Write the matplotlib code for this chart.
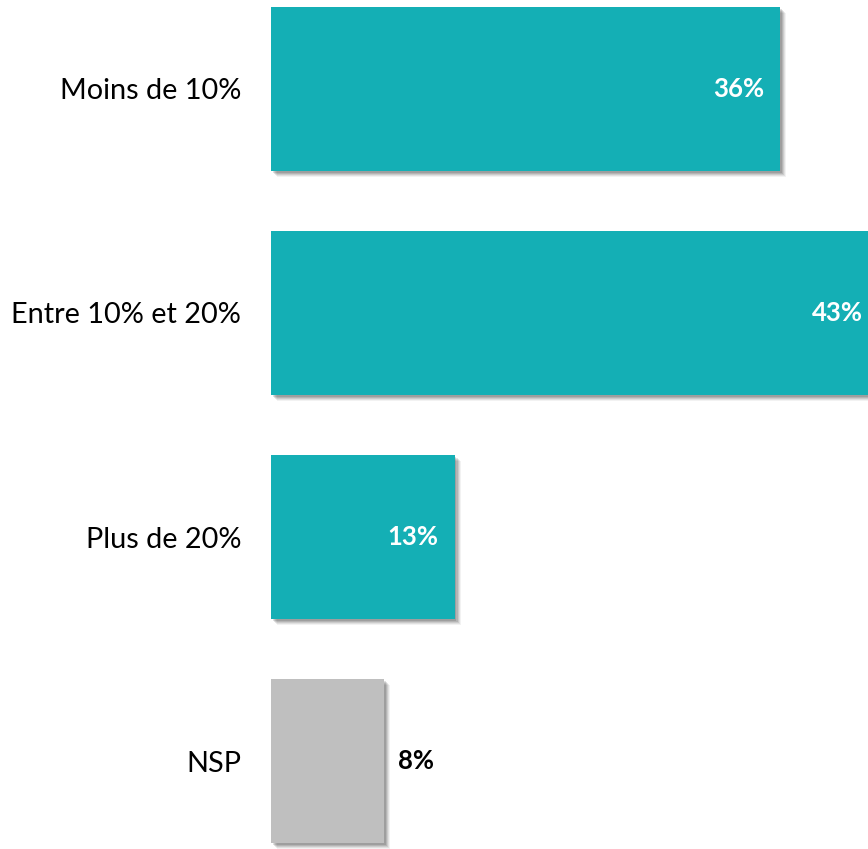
import matplotlib
matplotlib.use("Agg")
import matplotlib.pyplot as plt
import matplotlib.patheffects as pe

categories = ["Moins de 10%", "Entre 10% et 20%", "Plus de 20%", "NSP"]
values = [36, 43, 13, 8]
labels = ["36%", "43%", "13%", "8%"]
colors = ["#14AFB5", "#14AFB5", "#14AFB5", "#BFBFBF"]
inside = [True, True, True, False]

fig = plt.figure(figsize=(8.68, 8.49), dpi=100)
ax = fig.add_axes([271 / 868, 0, 1 - 271 / 868, 1])
px_per_unit = 14.14
ax.set_xlim(0, 597 / px_per_unit)
ax.set_ylim((849 - 89) / 224, -89 / 224)

shadow = [pe.SimplePatchShadow(offset=(o, -o), shadow_rgbFace="black", alpha=a)
          for o, a in [(4.2, 0.05), (3.5, 0.07), (2.8, 0.09), (2.0, 0.11), (1.2, 0.12)]] + [pe.Normal()]

bars = ax.barh(range(len(categories)), values, height=164 / 224, color=colors,
               path_effects=shadow)

font = "Lato"
for i, (v, lab, inn) in enumerate(zip(values, labels, inside)):
    if inn:
        ax.text(v - 16 / px_per_unit, i, lab, ha="right", va="center", color="white",
                fontsize=18.5, fontweight="bold", family=font)
    else:
        ax.text(v + 14 / px_per_unit, i, lab, ha="left", va="center", color="black",
                fontsize=18.5, fontweight="bold", family=font)

ax.set_yticks(range(len(categories)))
ax.set_yticklabels(categories, fontsize=20.8, family=font)
ax.tick_params(axis="y", length=0, pad=21.6)
ax.set_xticks([])
for s in ax.spines.values():
    s.set_visible(False)

fig.savefig("out.png", dpi=100)
